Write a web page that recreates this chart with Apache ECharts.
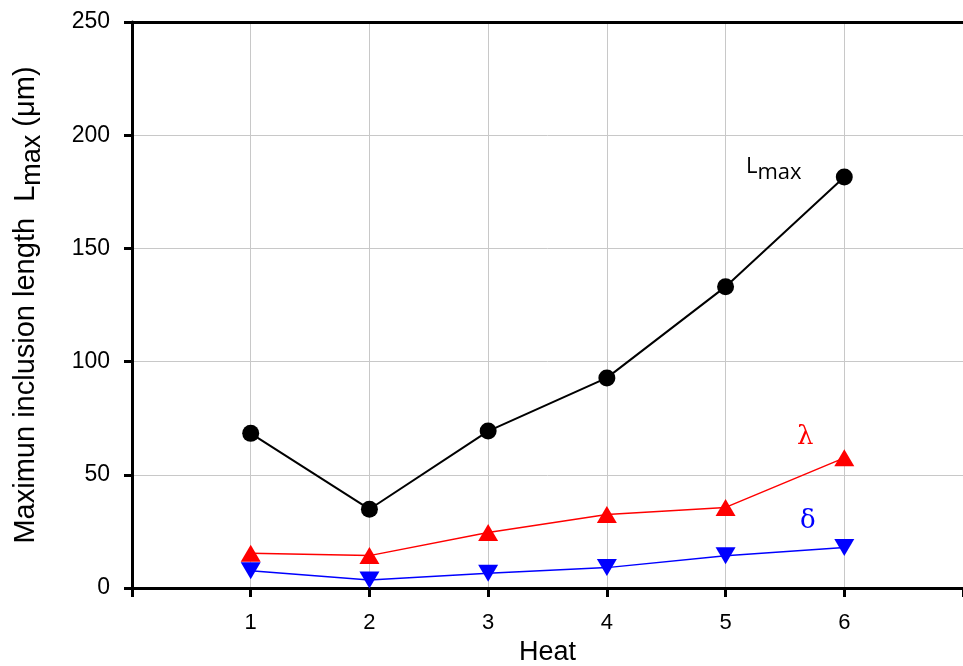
<!DOCTYPE html>
<html>
<head>
<meta charset="utf-8">
<script src="https://cdn.jsdelivr.net/npm/echarts@6/dist/echarts.min.js"></script>
<style>
  html, body { margin: 0; padding: 0; background: #fff; }
  #chart { width: 963px; height: 666px; }
</style>
</head>
<body>
<div id="chart"></div>
<script>
// 数据
var heats = [1, 2, 3, 4, 5, 6];
var lmaxData = [68.3, 34.8, 69.3, 92.8, 133.1, 181.5];
var lambdaData = [15.3, 14.3, 24.5, 32.5, 35.6, 57.5];
var deltaData = [7.6, 3.5, 6.5, 9.0, 14.2, 17.9];

function pairs(vals) {
    return heats.map(function (h, i) { return [h, vals[i]]; });
}

var chart = echarts.init(document.getElementById('chart'));
var font = 'Liberation Sans, Arial, sans-serif';

var option = {
    backgroundColor: '#fff',
    animation: false,
    grid: { left: 132, right: 0, top: 22, bottom: 78, containLabel: false, outerBoundsMode: 'none' },
    xAxis: [{
        type: 'value',
        min: 0,
        max: 7,
        interval: 1,
        name: 'Heat',
        nameLocation: 'middle',
        nameGap: 50,
        nameTextStyle: { fontFamily: font, fontSize: 27, color: '#000' },
        axisLine: { lineStyle: { color: '#000', width: 3 } },
        axisTick: { show: true, inside: false, length: 9, lineStyle: { color: '#000', width: 3 } },
        axisLabel: {
            margin: 24,
            fontFamily: font, fontSize: 22, color: '#000',
            formatter: function (v) { return (v >= 1 && v <= 6) ? String(v) : ''; }
        },
        splitLine: { show: true, lineStyle: { color: '#c8c8c8', width: 1 } }
    }, {
        type: 'value',
        position: 'top',
        min: 0,
        max: 7,
        axisLine: { show: true, lineStyle: { color: '#000', width: 3 } },
        axisTick: { show: false },
        axisLabel: { show: false },
        splitLine: { show: false }
    }],
    yAxis: {
        type: 'value',
        min: 0,
        max: 250,
        interval: 50,
        name: 'Maximun inclusion length  L{sub|max} (μm)',
        nameLocation: 'middle',
        nameGap: 86,
        nameRotate: 90,
        nameTextStyle: {
            fontFamily: font, fontSize: 29, color: '#000',
            rich: {
                sub: { fontFamily: font, fontSize: 27, color: '#000', padding: [14, 0, 0, 0] }
            }
        },
        axisLine: { show: true, lineStyle: { color: '#000', width: 3 } },
        axisTick: { show: true, inside: false, length: 8, lineStyle: { color: '#000', width: 3 } },
        axisLabel: { margin: 22, fontFamily: font, fontSize: 23, color: '#000' },
        splitLine: { show: true, lineStyle: { color: '#c8c8c8', width: 1 } }
    },
    series: [{
        name: 'Lmax',
        type: 'line',
        data: pairs(lmaxData),
        symbol: 'circle',
        symbolSize: 17,
        itemStyle: { color: '#000' },
        lineStyle: { color: '#000', width: 2 },
        z: 5
    }, {
        name: 'λ',
        type: 'line',
        data: pairs(lambdaData),
        symbol: 'triangle',
        symbolSize: [20, 17],
        itemStyle: { color: '#ff0000' },
        lineStyle: { color: '#ff0000', width: 1.5 },
        z: 4
    }, {
        name: 'δ',
        type: 'line',
        data: pairs(deltaData),
        symbol: 'triangle',
        symbolRotate: 180,
        symbolSize: [20, 17],
        itemStyle: { color: '#0000ff' },
        lineStyle: { color: '#0000ff', width: 1.5 },
        z: 3
    }],
    graphic: [{
        type: 'text',
        left: 746,
        top: 156,
        style: {
            text: 'L{sub|max}',
            fontFamily: 'Open Sans, sans-serif',
            fontSize: 22,
            fill: '#000',
            rich: { sub: { fontFamily: 'Open Sans, sans-serif', fontSize: 22, padding: [11, 0, 0, 0] } }
        }
    }, {
        type: 'text',
        left: 797,
        top: 424,
        style: { text: 'λ', fontFamily: 'DejaVu Serif, serif', fontSize: 26, fill: '#ff0000' }
    }, {
        type: 'text',
        left: 800,
        top: 508,
        style: { text: 'δ', fontFamily: 'DejaVu Serif, serif', fontSize: 26, fill: '#0000ff' }
    }]
};

chart.setOption(option);
</script>
</body>
</html>
